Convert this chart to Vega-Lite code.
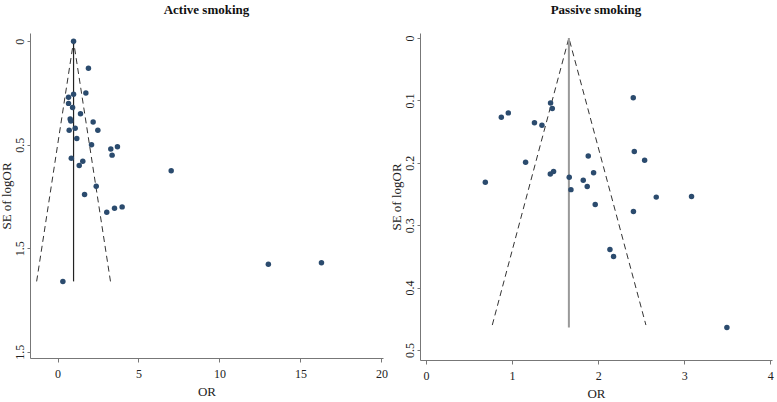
{
  "$schema": "https://vega.github.io/schema/vega-lite/v6.json",
  "padding": {"left": 0, "top": 4, "right": 8, "bottom": 4},
  "spacing": 2,
  "background": "white",
  "config": {
    "view": {"stroke": null},
    "font": "Liberation Serif",
    "title": {"font": "Liberation Serif", "fontSize": 13, "fontWeight": "bold", "color": "#111", "anchor": "middle", "offset": 16},
    "axis": {
      "grid": false,
      "labelFont": "Liberation Serif",
      "titleFont": "Liberation Serif",
      "labelFontSize": 12,
      "titleFontSize": 13,
      "titleFontWeight": "normal",
      "labelColor": "#222",
      "titleColor": "#222",
      "domainColor": "#777",
      "tickColor": "#777",
      "tickSize": 3
    },
    "axisY": {"labelAngle": -90, "labelAlign": "center", "labelBaseline": "bottom", "labelPadding": 1, "titlePadding": 0},
    "axisX": {"labelPadding": 6, "titlePadding": 6, "labelAngle": 0, "tickSize": 4}
  },
  "datasets": {
    "active": [
      {"OR": 0.99, "SE": 0.0}, {"OR": 1.91, "SE": 0.13}, {"OR": 0.99, "SE": 0.256}, {"OR": 1.75, "SE": 0.25},
      {"OR": 0.68, "SE": 0.27}, {"OR": 0.68, "SE": 0.30}, {"OR": 0.93, "SE": 0.32}, {"OR": 1.42, "SE": 0.35},
      {"OR": 0.78, "SE": 0.375}, {"OR": 0.82, "SE": 0.385}, {"OR": 2.2, "SE": 0.39}, {"OR": 1.09, "SE": 0.42},
      {"OR": 0.72, "SE": 0.43}, {"OR": 2.49, "SE": 0.43}, {"OR": 1.19, "SE": 0.47}, {"OR": 2.1, "SE": 0.50},
      {"OR": 3.29, "SE": 0.52}, {"OR": 3.70, "SE": 0.51}, {"OR": 3.37, "SE": 0.55}, {"OR": 0.85, "SE": 0.565},
      {"OR": 1.56, "SE": 0.58}, {"OR": 1.34, "SE": 0.60}, {"OR": 7.02, "SE": 0.625}, {"OR": 2.39, "SE": 0.70},
      {"OR": 1.67, "SE": 0.74}, {"OR": 3.04, "SE": 0.826}, {"OR": 3.52, "SE": 0.807}, {"OR": 3.99, "SE": 0.80},
      {"OR": 0.33, "SE": 1.16}, {"OR": 13.02, "SE": 1.077}, {"OR": 16.3, "SE": 1.07}
    ],
    "activeFunnel": [
      {"OR": -1.29, "SE": 1.16, "k": 1}, {"OR": 0.99, "SE": 0.0, "k": 2}, {"OR": 3.27, "SE": 1.16, "k": 3}
    ],
    "activeCenter": [{"OR": 0.99, "SE": 0.0, "SE2": 1.16}],
    "passive": [
      {"OR": 1.447, "SE": 0.104}, {"OR": 1.467, "SE": 0.113}, {"OR": 0.875, "SE": 0.127}, {"OR": 0.956, "SE": 0.120},
      {"OR": 1.26, "SE": 0.136}, {"OR": 1.347, "SE": 0.140}, {"OR": 1.157, "SE": 0.199}, {"OR": 1.444, "SE": 0.218},
      {"OR": 1.482, "SE": 0.214}, {"OR": 0.689, "SE": 0.231}, {"OR": 1.664, "SE": 0.223}, {"OR": 1.684, "SE": 0.243},
      {"OR": 1.827, "SE": 0.228}, {"OR": 1.873, "SE": 0.238}, {"OR": 1.885, "SE": 0.189}, {"OR": 1.947, "SE": 0.216},
      {"OR": 1.966, "SE": 0.267}, {"OR": 2.408, "SE": 0.0957}, {"OR": 2.42, "SE": 0.182}, {"OR": 2.54, "SE": 0.196},
      {"OR": 2.675, "SE": 0.255}, {"OR": 3.085, "SE": 0.254}, {"OR": 2.41, "SE": 0.278}, {"OR": 2.137, "SE": 0.339},
      {"OR": 2.179, "SE": 0.350}, {"OR": 3.496, "SE": 0.464}
    ],
    "passiveFunnel": [
      {"OR": 0.77, "SE": 0.46, "k": 1}, {"OR": 1.66, "SE": 0.0, "k": 2}, {"OR": 2.555, "SE": 0.46, "k": 3}
    ],
    "passiveCenter": [{"OR": 1.66, "SE": 0.0, "SE2": 0.464}]
  },
  "hconcat": [
    {
      "title": "Active smoking",
      "width": 353,
      "height": 325,
      "layer": [
        {
          "data": {"name": "activeFunnel"},
          "mark": {"type": "line", "color": "#333", "strokeWidth": 1, "strokeDash": [6, 4]},
          "encoding": {
            "x": {"field": "OR", "type": "quantitative", "scale": {"domain": [-1.7, 20.1], "nice": false, "zero": false},
                  "axis": {"values": [0, 5, 10, 15, 20], "format": "d", "title": "OR"}},
            "y": {"field": "SE", "type": "quantitative", "scale": {"domain": [-0.04, 1.53], "nice": false, "zero": false, "reverse": true},
                  "axis": {"values": [0, 0.5, 1, 1.5], "format": ".1~f", "labelExpr": "datum.value == 1 ? '1.5' : datum.label", "title": "SE of logOR"}},
            "order": {"field": "k"}
          }
        },
        {
          "data": {"name": "activeCenter"},
          "mark": {"type": "rule", "color": "#222", "strokeWidth": 1.2},
          "encoding": {
            "x": {"field": "OR", "type": "quantitative"},
            "y": {"field": "SE", "type": "quantitative"},
            "y2": {"field": "SE2"}
          }
        },
        {
          "data": {"name": "active"},
          "mark": {"type": "point", "filled": true, "color": "#2b4b6e", "opacity": 1, "size": 30},
          "encoding": {
            "x": {"field": "OR", "type": "quantitative"},
            "y": {"field": "SE", "type": "quantitative"}
          }
        }
      ]
    },
    {
      "title": "Passive smoking",
      "width": 352,
      "height": 327,
      "layer": [
        {
          "data": {"name": "passiveFunnel"},
          "mark": {"type": "line", "color": "#333", "strokeWidth": 1, "strokeDash": [6, 4]},
          "encoding": {
            "x": {"field": "OR", "type": "quantitative", "scale": {"domain": [-0.07, 4.02], "nice": false, "zero": false},
                  "axis": {"values": [0, 1, 2, 3, 4], "format": "d", "title": "OR"}},
            "y": {"field": "SE", "type": "quantitative", "scale": {"domain": [-0.008, 0.516], "nice": false, "zero": false, "reverse": true},
                  "axis": {"values": [0, 0.1, 0.2, 0.3, 0.4, 0.5], "format": ".1~f", "title": "SE of logOR"}},
            "order": {"field": "k"}
          }
        },
        {
          "data": {"name": "passiveCenter"},
          "mark": {"type": "rule", "color": "#999", "strokeWidth": 2},
          "encoding": {
            "x": {"field": "OR", "type": "quantitative"},
            "y": {"field": "SE", "type": "quantitative"},
            "y2": {"field": "SE2"}
          }
        },
        {
          "data": {"name": "passive"},
          "mark": {"type": "point", "filled": true, "color": "#2b4b6e", "opacity": 1, "size": 30},
          "encoding": {
            "x": {"field": "OR", "type": "quantitative"},
            "y": {"field": "SE", "type": "quantitative"}
          }
        }
      ]
    }
  ]
}
